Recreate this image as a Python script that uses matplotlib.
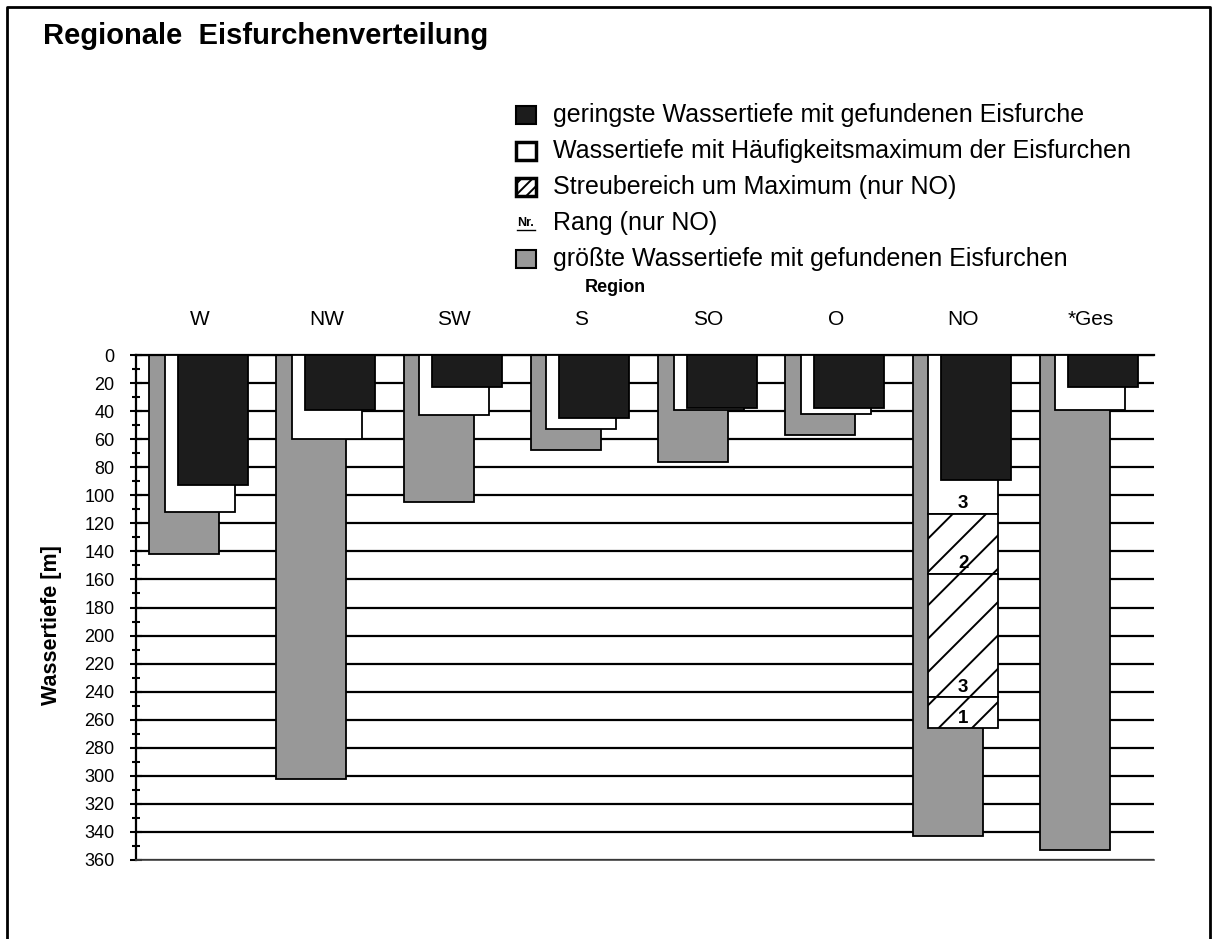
import numpy as np
import matplotlib.pyplot as plt
from matplotlib.patches import Rectangle

plt.rcParams['font.family'] = ['Liberation Sans', 'DejaVu Sans']
plt.rcParams['hatch.linewidth'] = 1.4

# depths in metres per region
regions = ['W', 'NW', 'SW', 'S', 'SO', 'O', 'NO', '*Ges']
min_depth = [93, 39, 23, 45, 38, 38, 89, 23]
peak_depth = [112, 60, 43, 53, 39, 42, 113, 39]
max_depth = [142, 302, 105, 68, 76, 57, 343, 353]

# scatter band around the maximum (NO only): segment limits and their rank
no_bounds = [113, 156, 244, 266]
no_rank = [3, 2, 3, 1]

depth_ticks = list(range(0, 361, 20))

legend_labels = [
    'geringste Wassertiefe mit gefundenen Eisfurche',
    'Wassertiefe mit Häufigkeitsmaximum der Eisfurchen',
    'Streubereich um Maximum (nur NO)',
    'Rang (nur NO)',
    'größte Wassertiefe mit gefundenen Eisfurchen',
]

BLACK = '#1c1c1c'
GREY = '#989898'
W, H = 1217, 939

fig = plt.figure(figsize=(W / 100, H / 100), dpi=100)

# page layer in pixel units: frame, title, legend
page = fig.add_axes([0, 0, 1, 1])
page.set_xlim(0, W)
page.set_ylim(H, 0)
page.axis('off')

page.plot([7, 7, 1210, 1210], [H, 7, 7, H], color='black', lw=2)
page.text(43, 36, 'Regionale  Eisfurchenverteilung', fontsize=21,
          fontweight='bold', va='center')

rows = [115, 151, 187, 223, 259]
mx, mw, mh = 516, 20, 18
page.add_patch(Rectangle((mx, rows[0] - mh / 2), mw, mh, facecolor=BLACK,
                         edgecolor='black', lw=1.5))
page.add_patch(Rectangle((mx, rows[1] - mh / 2), mw, mh, facecolor='white',
                         edgecolor='black', lw=2.5))
page.add_patch(Rectangle((mx, rows[2] - mh / 2), mw, mh, facecolor='white',
                         edgecolor='black', lw=2.5, hatch='///'))
page.text(mx + mw / 2, rows[3], 'Nr.', fontsize=9, fontweight='bold',
          ha='center', va='center')
page.plot([mx + 1, mx + mw - 1], [rows[3] + 7, rows[3] + 7], color='black', lw=1)
page.add_patch(Rectangle((mx, rows[4] - mh / 2), mw, mh, facecolor=GREY,
                         edgecolor='black', lw=1.5))
for y, label in zip(rows, legend_labels):
    page.text(553, y, label, fontsize=18, va='center')
page.text(585, 287, 'Region', fontsize=13, fontweight='bold', va='center')

page.text(52, 625, 'Wassertiefe [m]', fontsize=15.5, fontweight='bold',
          rotation=90, ha='center', va='center')

# chart
ax = fig.add_axes([136 / W, 1 - 860 / H, 1018 / W, 505 / H])
x = np.arange(len(regions)) + 0.5
bar_w = 0.55
off_grey, off_white, off_black = -0.122, 0.0, 0.102

ax.bar(x + off_grey, max_depth, width=bar_w, color=GREY, edgecolor='black',
       linewidth=1.3, zorder=2)
ax.bar(x + off_white, peak_depth, width=bar_w, color='white',
       edgecolor='black', linewidth=1.3, zorder=3)

ino = regions.index('NO')
ax.bar(x[ino] + off_white, np.diff(no_bounds), bottom=no_bounds[:-1],
       width=bar_w, color='white', edgecolor='black', linewidth=1.3,
       hatch='/', zorder=4)

ax.bar(x + off_black, min_depth, width=bar_w, color=BLACK, edgecolor='black',
       linewidth=1.3, zorder=5)

for b, r in zip(no_bounds, no_rank):
    ax.text(x[ino] + off_white, b - 1, str(r), ha='center', va='bottom',
            fontsize=13.5, fontweight='bold', zorder=6)

ax.set_xlim(0, len(regions))
ax.set_ylim(360, 0)
ax.set_yticks(depth_ticks)
ax.set_yticks(range(10, 360, 20), minor=True)
ax.grid(axis='y', which='major', color='black', lw=1.6)
ax.set_axisbelow(True)

ax.set_xticks(x)
ax.set_xticklabels(regions)
ax.xaxis.tick_top()
ax.tick_params(axis='x', length=0, pad=19, labelsize=15)
ax.tick_params(axis='y', which='major', direction='inout', length=9,
               width=1.5, pad=11, labelsize=13)
ax.tick_params(axis='y', which='minor', direction='inout', length=6,
               width=1.5)

ax.spines['right'].set_visible(False)
ax.spines['top'].set_linewidth(1.6)
ax.spines['left'].set_linewidth(1.6)
ax.spines['bottom'].set_linewidth(1.2)
ax.spines['bottom'].set_color('#444444')

fig.savefig('out.png', dpi=100)
